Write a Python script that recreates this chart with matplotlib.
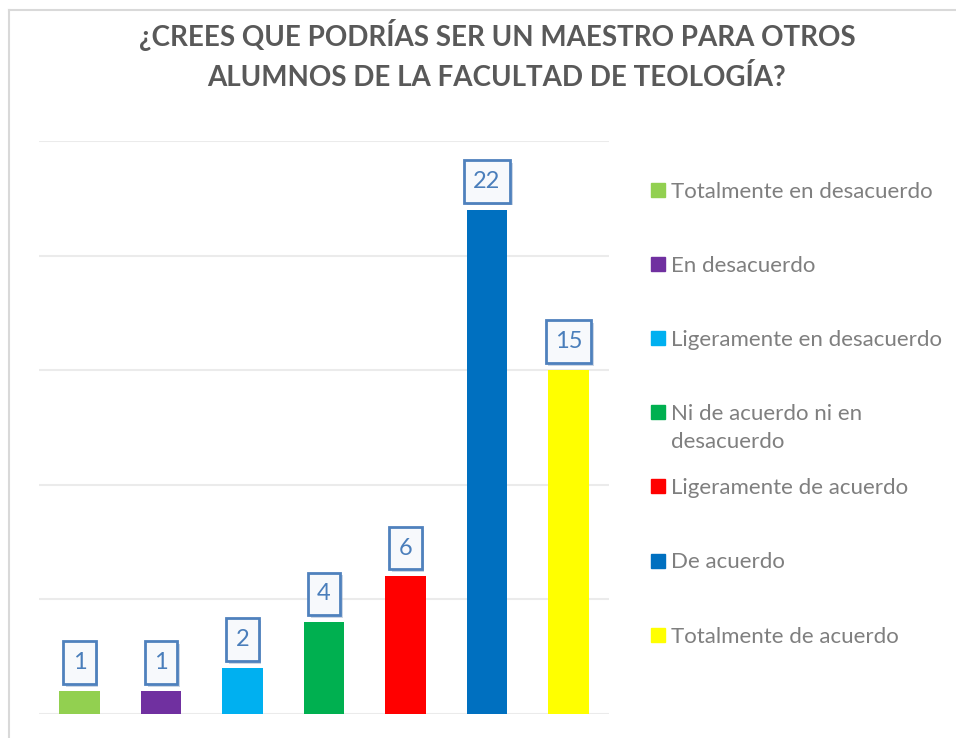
import matplotlib.pyplot as plt
from matplotlib.lines import Line2D
from matplotlib.patches import Rectangle
from matplotlib.path import Path
import matplotlib.patheffects as pe

categorias = ["Totalmente en desacuerdo", "En desacuerdo", "Ligeramente en desacuerdo",
              "Ni de acuerdo ni en\ndesacuerdo", "Ligeramente de acuerdo", "De acuerdo",
              "Totalmente de acuerdo"]
valores = [1, 1, 2, 4, 6, 22, 15]
colores = ["#92D050", "#7030A0", "#00B0F0", "#00B050", "#FF0000", "#0070C0", "#FFFF00"]
titulo = "¿CREES QUE PODRÍAS SER UN MAESTRO PARA OTROS\nALUMNOS DE LA FACULTAD DE TEOLOGÍA?"

plt.rcParams['font.family'] = ['Lato', 'DejaVu Sans']

W, H = 956, 738
fig = plt.figure(figsize=(W / 100, H / 100), dpi=100)


def caja(x0, y0, width, height, mutation_size):
    # caja mas alta que ancha, como las etiquetas de Excel
    cx = x0 + width / 2
    cy = y0 + height / 2
    w = width + 0.78 * mutation_size
    h = 1.8 * mutation_size
    return Path.unit_rectangle().transformed(
        plt.matplotlib.transforms.Affine2D().scale(w, h).translate(cx - w / 2, cy - h / 2))


# borde del area del grafico
fig.add_artist(Line2D([9 / W, 1], [1 - 10 / H, 1 - 10 / H], color="#D9D9D9", lw=1.5))
fig.add_artist(Line2D([9 / W, 9 / W], [0, 1 - 10 / H], color="#D9D9D9", lw=1.5))

ax = fig.add_axes([38.75 / W, 24 / H, 570.5 / W, 573 / H])
x = range(len(valores))
ax.bar(x, valores, width=0.5, color=colores, zorder=3)
ax.set_xlim(-0.5, len(valores) - 0.5)
ax.set_ylim(0, 25)
ax.set_yticks(range(0, 26, 5))
ax.yaxis.grid(True, color="#EBEBEB", lw=1.5, zorder=0)
ax.set_xticks([])
ax.tick_params(left=False, labelleft=False)
for s in ax.spines.values():
    s.set_visible(False)

for i, v in enumerate(valores):
    t = ax.annotate(str(v), (i, v), xytext=(0, 20.5), textcoords="offset points",
                    ha="center", va="center", fontsize=17, color="#4A7EBB", zorder=5,
                    bbox=dict(boxstyle=caja, fc="#F7F9FC", ec="#4F81BD", lw=2))
    t.get_bbox_patch().set_path_effects([pe.SimplePatchShadow(offset=(2, -2), shadow_rgbFace="#9DB0CC", alpha=0.5), pe.Normal()])

fig.text(497 / W, 1 - 55 / H, titulo, ha="center", va="center", fontsize=20,
         fontweight="bold", color="#595959", linespacing=1.55)

# leyenda
y0 = 190
paso = 74.1
for i, (c, col) in enumerate(zip(categorias, colores)):
    yc = y0 + i * paso
    fig.add_artist(Rectangle((651 / W, 1 - (yc + 7) / H), 14 / W, 14 / H, color=col,
                             transform=fig.transFigure))
    extra = c.count("\n") * 28
    fig.text(671 / W, 1 - (yc + 8 + extra) / H, c, ha="left", va="baseline", fontsize=16,
             color="#7F7F7F", linespacing=1.5)

fig.savefig("out.png", dpi=100)
